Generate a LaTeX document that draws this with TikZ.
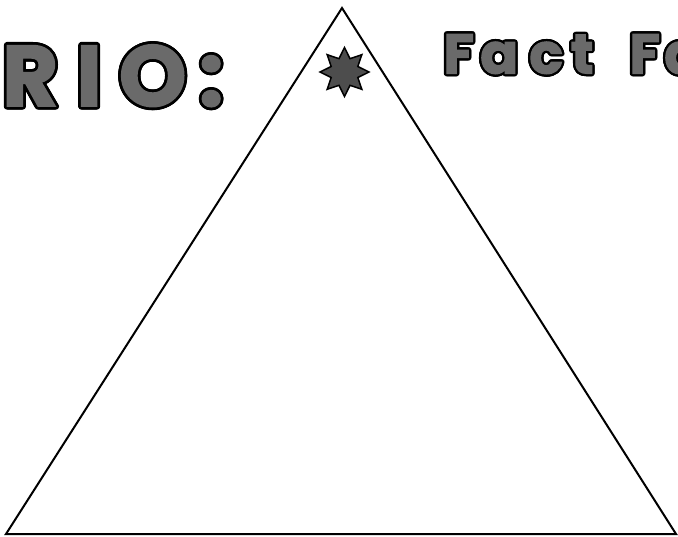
\documentclass[tikz,border=0pt]{standalone}
\usepackage{fontspec}
\usetikzlibrary{shapes.geometric}
\newfontfamily\headfont[FakeBold=2]{Poppins Bold}
\definecolor{sketch}{HTML}{6A6A6A}
\definecolor{starfill}{HTML}{4D4D4D}
\newlength{\olw}
\setlength{\olw}{2.5pt}
\newcommand{\olglyph}[1]{\makebox[0pt]{%
  \foreach \ang in {0,22.5,...,337.5}{%
    \pgfmathsetlengthmacro\odx{\olw*cos(\ang)}%
    \pgfmathsetlengthmacro\ody{\olw*sin(\ang)}%
    \makebox[0pt]{\raisebox{\ody}{\kern\odx\textcolor{black}{#1}\kern-\odx}}}%
  \makebox[0pt]{\textcolor{sketch}{#1}}}}
\tikzset{
  x=1pt,y=-1pt,
  heading/.style={inner sep=0pt, anchor=base west},
  starbox/.style={star, star points=8, star point ratio=1.7, minimum size=49pt,
    inner sep=0pt, draw=black, line width=1.5pt, fill=starfill},
  edge/.style={line width=2pt, line join=miter}
}
\begin{document}
\begin{tikzpicture}
\useasboundingbox (0,0) rectangle (678,537);
\clip (0,0) rectangle (678,537);
\coordinate (apex) at (342,8);
\coordinate (bl) at (6,534);
\coordinate (br) at (676,534);
\draw[edge] (apex) -- (bl) -- (br) -- cycle;
\node[starbox] (star) at (344.5,72) {};
\node[heading, font=\headfont\fontsize{86}{86}\selectfont] (rio) at (30,106)
  {\setlength{\olw}{2.8pt}\olglyph{R}\kern59pt\olglyph{I}\kern63.5pt\olglyph{O}\kern58.5pt\olglyph{:}};
\node[heading, font=\headfont\fontsize{56}{56}\selectfont] (fact) at (458.5,73.5)
  {\setlength{\olw}{2.3pt}\olglyph{F}\kern40.5pt\olglyph{a}\kern47pt\olglyph{c}\kern36pt\olglyph{t}\ \kern\dimexpr62.5pt-\fontdimen2\font\relax\olglyph{F}\kern38.5pt\olglyph{a}};
\end{tikzpicture}
\end{document}
